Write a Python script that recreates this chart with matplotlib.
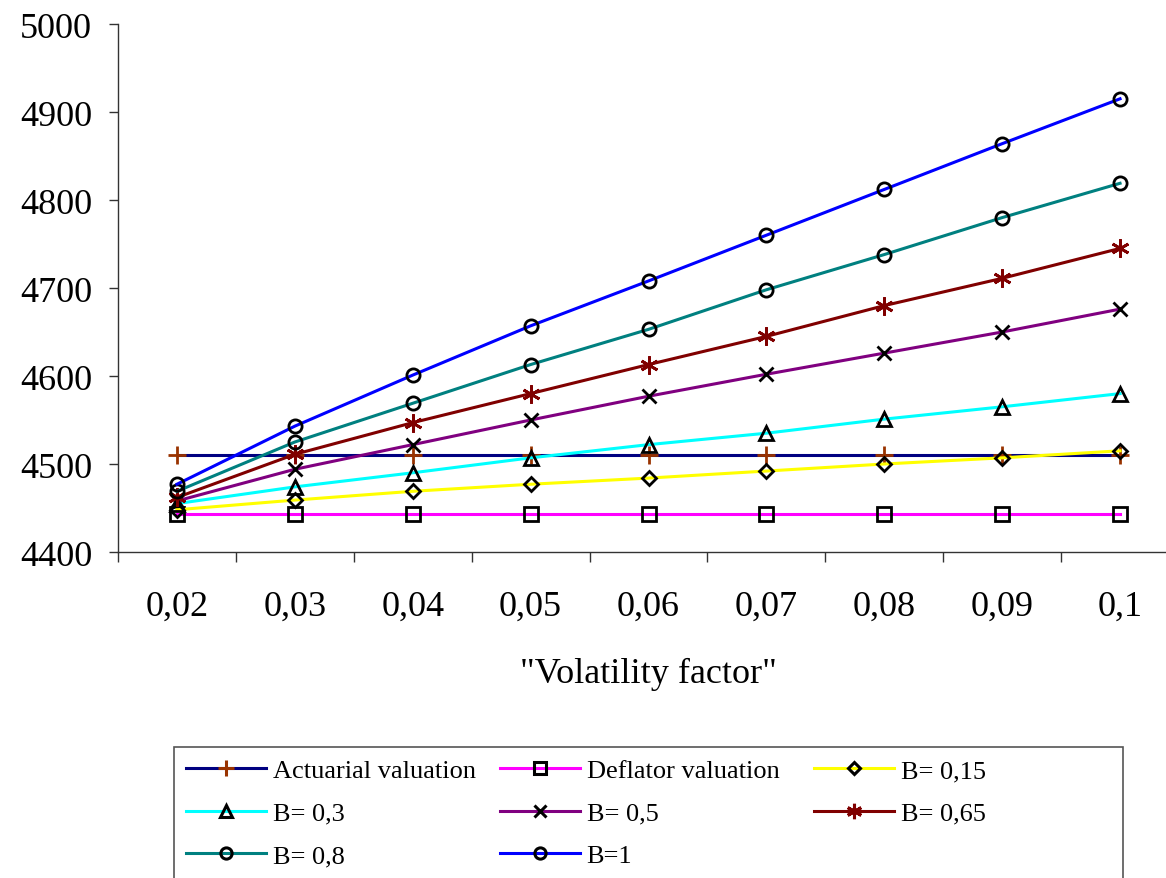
import matplotlib
matplotlib.use("Agg")
import matplotlib.pyplot as plt
from matplotlib.patches import Rectangle
import numpy as np

categories = ["0,02", "0,03", "0,04", "0,05", "0,06", "0,07", "0,08", "0,09", "0,1"]
actuarial = [4510, 4510, 4510, 4510, 4510, 4510, 4510, 4510, 4510]
deflator = [4443, 4443, 4443, 4443, 4443, 4443, 4443, 4443, 4443]
b015 = [4448, 4459, 4469, 4477, 4484, 4492, 4500, 4507, 4515]
b03 = [4455, 4474, 4490, 4507, 4522, 4535, 4551, 4565, 4580]
b05 = [4458, 4494, 4522, 4550, 4577, 4602, 4626, 4650, 4676]
b065 = [4462, 4511, 4547, 4580, 4613, 4645, 4680, 4711, 4745]
b08 = [4469, 4525, 4569, 4613, 4653, 4698, 4738, 4780, 4819]
b1 = [4477, 4543, 4601, 4657, 4708, 4760, 4812, 4864, 4915]

plt.rcParams['font.family'] = ['Liberation Serif', 'DejaVu Serif']

W, H = 1166, 879
fig = plt.figure(figsize=(W / 100, H / 100), dpi=100)
left, right, top, bottom = 118, 1179, 25, 553
ax = fig.add_axes([left / W, 1 - bottom / H, (right - left) / W, (bottom - top) / H])

x = np.arange(1, len(categories) + 1)
lw = 2.2
mew = 2.0
series = [
    ("Actuarial valuation", actuarial, "#000080", dict(marker="+", markersize=13, markeredgecolor="#993300")),
    ("Deflator valuation", deflator, "#FF00FF", dict(marker="s", markersize=9.5, markerfacecolor="none", markeredgecolor="black")),
    ("B= 0,15", b015, "#FFFF00", dict(marker="D", markersize=7, markerfacecolor="none", markeredgecolor="black")),
    ("B= 0,3", b03, "#00FFFF", dict(marker="^", markersize=10, markerfacecolor="none", markeredgecolor="black")),
    ("B= 0,5", b05, "#800080", dict(marker="x", markersize=10, markeredgecolor="black")),
    ("B= 0,65", b065, "#800000", dict(marker=(6, 2, 0), markersize=13, markeredgecolor="#800000")),
    ("B= 0,8", b08, "#008080", dict(marker="o", markersize=9.5, markerfacecolor="none", markeredgecolor="black")),
    ("B=1", b1, "#0000FF", dict(marker="o", markersize=9.5, markerfacecolor="none", markeredgecolor="black")),
]
handles = {}
for label, vals, color, mk in series:
    h, = ax.plot(x, vals, color=color, lw=lw, label=label, clip_on=False,
                 markeredgewidth=mew, **mk)
    handles[label] = h

ax.set_xlim(0.5, len(categories) + 0.5)
ax.set_ylim(4400, 5000)
ax.set_yticks(np.arange(4400, 5001, 100))
ax.set_xticks(np.arange(0.5, len(categories) + 1, 1))
ax.set_xticklabels([])
ax.set_xticks(x, minor=True)
ax.set_xticklabels(categories, minor=True)
ax.tick_params(axis="x", which="minor", length=0, pad=27, labelsize=26)
ax.tick_params(axis="x", which="major", length=7, width=1, direction="out", color="#333333")
ax.tick_params(axis="y", length=6.5, width=1, direction="out", pad=12, labelsize=26, color="#333333")
for s in ["top", "right"]:
    ax.spines[s].set_visible(False)
for s in ["left", "bottom"]:
    ax.spines[s].set_color("#333333")
    ax.spines[s].set_linewidth(1)

fig.text(648 / W, 1 - 683 / H, '"Volatility factor"', ha="center", va="baseline", fontsize=26)

# legend frame
fig.patches.append(Rectangle((174 / W, 1 - 900 / H), (1123 - 174) / W, (900 - 748) / H,
                             transform=fig.transFigure, fill=False, edgecolor="#555555",
                             linewidth=1.2, clip_on=False))

columns = [
    (186, ["Actuarial valuation", "B= 0,3", "B= 0,8"]),
    (500, ["Deflator valuation", "B= 0,5", "B=1"]),
    (814, ["B= 0,15", "B= 0,65"]),
]
fs = 19
for xpx, labels in columns:
    leg = fig.legend([handles[k] for k in labels], labels, loc="upper left",
                     bbox_to_anchor=(xpx / W, 1 - 760 / H), fontsize=fs, frameon=False,
                     handlelength=80 / 26.4, handletextpad=0.25, labelspacing=0.72,
                     borderpad=0, borderaxespad=0)
    for lh in leg.legend_handles:
        lh.set_markersize(lh.get_markersize() * 0.85)
        lh.set_markeredgewidth(2.2)
        lh.set_linewidth(2.2)

fig.savefig("out.png", dpi=100)
